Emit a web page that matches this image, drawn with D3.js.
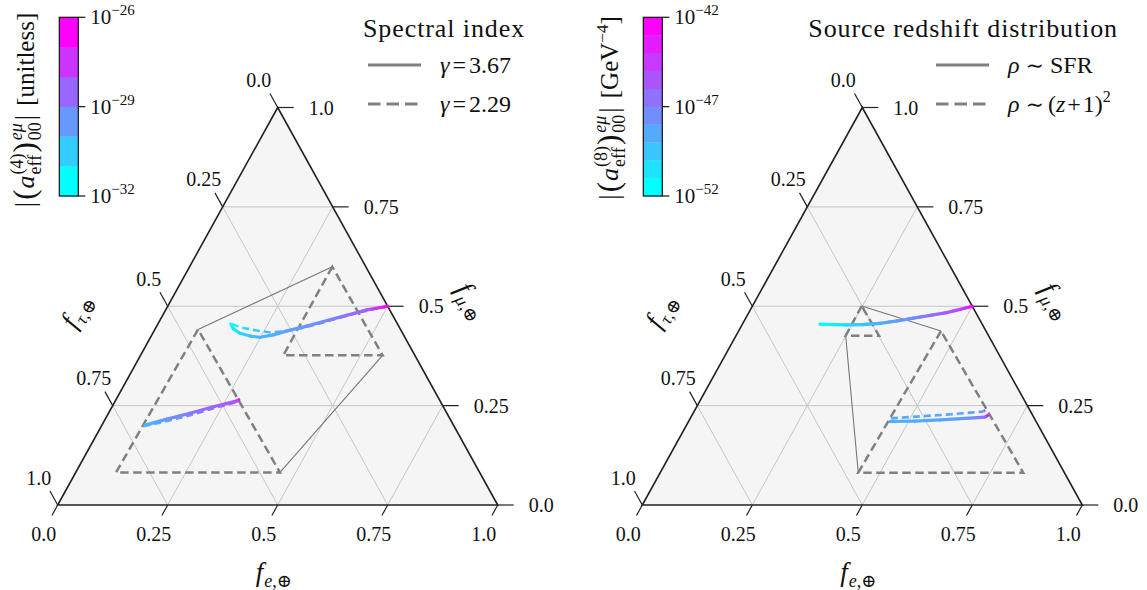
<!DOCTYPE html>
<html><head><meta charset="utf-8">
<script src="https://cdn.jsdelivr.net/npm/d3@7"></script>
<style>
body{margin:0;background:#fff}
svg{display:block}
text{font-family:'Liberation Serif','DejaVu Serif',serif;fill:#111}
</style>
</head><body>
<svg id="c" width="1147" height="590"></svg>
<script>
// ---------------- data ----------------
const tickValues = [0, 0.25, 0.5, 0.75, 1];
const tickLabels = ["0.0", "0.25", "0.5", "0.75", "1.0"];
const gridValues = [0.25, 0.5, 0.75];

// curves: [f_e, f_mu, log10 |coef|]
const leftUpperSolid = [
  [0.166,0.455,-32.0],[0.178,0.443,-31.5],[0.198,0.432,-31.0],[0.225,0.425,-30.6],
  [0.249,0.422,-30.3],[0.276,0.428,-30.0],[0.302,0.438,-29.7],[0.341,0.450,-29.4],
  [0.380,0.464,-29.1],[0.418,0.477,-28.7],[0.457,0.491,-28.2],[0.500,0.500,-26.0]];
const leftUpperDashed = [
  [0.168,0.455,-32.0],[0.200,0.445,-31.3],[0.233,0.439,-30.8],[0.266,0.434,-30.4],
  [0.302,0.437,-30.0],[0.342,0.448,-29.6],[0.381,0.462,-29.2],[0.419,0.476,-28.8],
  [0.458,0.489,-28.3],[0.500,0.500,-26.0]];
const leftLowerSolid = [
  [0.098,0.201,-30.2],[0.140,0.216,-29.5],[0.185,0.231,-28.8],[0.230,0.247,-28.3],
  [0.277,0.262,-27.9],[0.279,0.265,-26.0]];
const leftLowerDashed = [
  [0.096,0.198,-30.4],[0.142,0.211,-29.8],[0.188,0.226,-29.1],[0.232,0.243,-28.6],
  [0.277,0.259,-28.1],[0.279,0.262,-26.0]];
const rightUpperSolid = [
  [0.176,0.455,-52.0],[0.211,0.454,-51.2],[0.238,0.453,-50.5],[0.275,0.454,-49.6],
  [0.312,0.457,-48.8],[0.348,0.463,-48.1],[0.381,0.470,-47.3],[0.416,0.477,-46.5],
  [0.450,0.484,-45.6],[0.476,0.492,-44.8],[0.500,0.500,-42.5]];
const rightUpperDashed = [
  [0.176,0.455,-52.0],[0.238,0.453,-50.5],[0.312,0.457,-48.8],[0.381,0.470,-47.3],
  [0.450,0.484,-45.6],[0.500,0.500,-42.5]];
const rightLowerSolid = [
  [0.458,0.210,-48.8],[0.514,0.211,-48.7],[0.570,0.214,-48.5],[0.625,0.218,-48.0],
  [0.668,0.221,-46.5],[0.672,0.225,-42.5]];
const rightLowerDashed = [
  [0.456,0.218,-48.8],[0.520,0.223,-48.7],[0.586,0.228,-48.6],[0.657,0.235,-48.3],
  [0.661,0.240,-42.5]];

// grey flavour triangles [f_e, f_mu]: top, bottom-left, bottom-right
const leftTriBig   = [[0.0982,0.4415],[0.0916,0.0818],[0.4643,0.0818]];
const leftTriSmall = [[0.3243,0.5995],[0.3244,0.3766],[0.5502,0.3766]];
const rightTriSmall= [[0.2484,0.5006],[0.2493,0.4259],[0.3250,0.4259]];
const rightTriBig  = [[0.4600,0.4377],[0.4502,0.0813],[0.8252,0.0813]];
const leftLinks  = [[[0.0982,0.4415],[0.3243,0.5995]],[[0.4643,0.0818],[0.5502,0.3766]]];
const rightLinks = [[[0.2484,0.5006],[0.4600,0.4377]],[[0.2493,0.4259],[0.4502,0.0813]]];

// colorbars
const cbLeftBounds  = [-32,-31,-30,-29,-28,-27,-26];
const cbLeftTicks   = [-32,-29,-26];
const cbRightBounds = [-52,-51,-50,-49,-48,-47,-46,-45,-44,-43,-42];
const cbRightTicks  = [-52,-47,-42];

const legendLeftTitle = "Spectral index";
const legendLeftLabels = ["3.67","2.29"];
const legendRightTitle = "Source redshift distribution";

// ---------------- drawing ----------------
const svg = d3.select("#c");
const defs = svg.append("defs");
const cool = t => d3.rgb(255*t, 255*(1-t), 255).formatHex();

const feScale = d3.scaleLinear().domain([0,1]).range([0,440]);
const muScale = d3.scaleLinear().domain([0,1]).range([505,107.5]);

function rich(parent, pieces, o){
  const g = parent.append("g").attr("transform",`translate(${o.x},${o.y}) rotate(${o.rot||0})`);
  const inner = g.append("g");
  let x=0,lastX=0,lastW=0;
  pieces.forEach(p=>{
    if(p.t===undefined){x+=p.gap;return;}
    const el = inner.append("text").attr("font-size",p.s).attr("y",p.dy||0);
    if(p.i) el.attr("font-style","italic");
    if(p.ls) el.attr("letter-spacing",p.ls);
    el.text(p.t);
    const w = el.node().getComputedTextLength();
    if(p.pair){el.attr("x",lastX); x=lastX+Math.max(lastW,w);}
    else {el.attr("x",x); lastX=x; lastW=w; x+=w;}
  });
  const sh = o.anchor==="middle"?-x/2:o.anchor==="end"?-x:0;
  inner.attr("transform",`translate(${sh},${o.v||0})`);
  return x;
}

let gid=0;
function drawPanel(P){
  const x0=P.x0;
  const pr=(fe,fmu)=>[x0+feScale(fe)+feScale(fmu)/2, muScale(fmu)];
  const g=svg.append("g");
  const A=pr(0,0),B=pr(1,0),C=pr(0,1);
  g.append("path").attr("d",`M${A}L${B}L${C}Z`).attr("fill","#f5f5f5");
  // grid
  gridValues.forEach(v=>{
    [[pr(0,v),pr(1-v,v)],[pr(v,0),pr(v,1-v)],[pr(1-v,0),pr(0,1-v)]].forEach(s=>{
      g.append("line").attr("x1",s[0][0]).attr("y1",s[0][1]).attr("x2",s[1][0]).attr("y2",s[1][1])
       .attr("stroke","#c6c6c6").attr("stroke-width",1);
    });
  });
  // ticks and labels
  const dx=-0.484, dy=0.875;
  tickValues.forEach((v,i)=>{
    let p=pr(v,0);
    g.append("line").attr("x1",p[0]).attr("y1",p[1]).attr("x2",p[0]+dx*12).attr("y2",p[1]+dy*12).attr("stroke","#222").attr("stroke-width",1.2);
    g.append("text").attr("x",p[0]-14).attr("y",p[1]+36).attr("text-anchor","middle").attr("font-size",20).text(tickLabels[i]);
    p=pr(1-v,v);
    g.append("line").attr("x1",p[0]).attr("y1",p[1]).attr("x2",p[0]+16).attr("y2",p[1]).attr("stroke","#222").attr("stroke-width",1.2);
    g.append("text").attr("x",p[0]+31).attr("y",p[1]+7).attr("font-size",20).text(tickLabels[i]);
    p=pr(0,1-v);
    g.append("line").attr("x1",p[0]).attr("y1",p[1]).attr("x2",p[0]+dx*16).attr("y2",p[1]-dy*16).attr("stroke","#222").attr("stroke-width",1.2);
    g.append("text").attr("x",p[0]-19).attr("y",p[1]-20.5).attr("text-anchor","middle").attr("font-size",20).text(tickLabels[i]);
  });
  g.append("path").attr("d",`M${A}L${B}L${C}Z`).attr("fill","none").attr("stroke","#222").attr("stroke-width",1.6);

  P.links.forEach(l=>{
    const a=pr(...l[0]),b=pr(...l[1]);
    g.append("line").attr("x1",a[0]).attr("y1",a[1]).attr("x2",b[0]).attr("y2",b[1]).attr("stroke","#777").attr("stroke-width",1.1);
  });
  P.tris.forEach(t=>{
    const pts=t.map(d=>pr(d[0],d[1]));
    g.append("path").attr("d","M"+pts.join("L")+"Z").attr("fill","none").attr("stroke","#808080")
     .attr("stroke-width",2.5).attr("stroke-dasharray","8.5,4.5");
  });
  P.curves.forEach(c=>{
    const t=d3.scaleLinear().domain(P.dom).range([0,1]).clamp(true);
    let cum=0;
    for(let k=0;k<c.data.length-1;k++){
      const a=pr(c.data[k][0],c.data[k][1]), b=pr(c.data[k+1][0],c.data[k+1][1]);
      const id="gr"+(gid++);
      const lg=defs.append("linearGradient").attr("id",id).attr("gradientUnits","userSpaceOnUse")
        .attr("x1",a[0]).attr("y1",a[1]).attr("x2",b[0]).attr("y2",b[1]);
      lg.append("stop").attr("offset",0).attr("stop-color",cool(t(c.data[k][2])));
      lg.append("stop").attr("offset",1).attr("stop-color",cool(t(c.data[k+1][2])));
      const ln=g.append("line").attr("x1",a[0]).attr("y1",a[1]).attr("x2",b[0]).attr("y2",b[1])
        .attr("stroke",`url(#${id})`);
      if(c.dash){ln.attr("stroke-width",2.6).attr("stroke-dasharray","7,4").attr("stroke-dashoffset",cum);}
      else {ln.attr("stroke-width",3.2).attr("stroke-linecap","round");}
      cum+=Math.hypot(b[0]-a[0],b[1]-a[1]);
    }
  });

  // axis labels
  rich(svg,[{t:"f",s:27,i:1},{gap:1},{t:"e",s:18,i:1,dy:6},{t:",⊕",s:18,dy:6}],{x:x0+216,y:581,anchor:"middle"});
  rich(svg,[{t:"f",s:27,i:1},{gap:1},{t:"μ",s:18,i:1,dy:6},{t:",⊕",s:18,dy:6}],{x:x0+412,y:302,rot:58,anchor:"middle",v:6});
  rich(svg,[{t:"f",s:27,i:1},{gap:1},{t:"τ",s:18,i:1,dy:6},{t:",⊕",s:18,dy:6}],{x:x0+21,y:312,rot:-60,anchor:"middle",v:6});

  // colorbar
  const cb=P.cb;
  const cy=d3.scaleLinear().domain([cb.bounds[0],cb.bounds[cb.bounds.length-1]]).range([196,17.3]);
  const n=cb.bounds.length-1;
  for(let k=0;k<n;k++){
    svg.append("rect").attr("x",cb.x).attr("width",19).attr("y",cy(cb.bounds[k+1])).attr("height",cy(cb.bounds[k])-cy(cb.bounds[k+1])+0.3)
      .attr("fill",cool(k/(n-1)));
  }
  svg.append("rect").attr("x",cb.x).attr("width",19).attr("y",17.3).attr("height",196-17.3).attr("fill","none").attr("stroke","#111").attr("stroke-width",1.2);
  cb.ticks.forEach(v=>{
    svg.append("line").attr("x1",cb.x+19).attr("x2",cb.x+26).attr("y1",cy(v)).attr("y2",cy(v)).attr("stroke","#111").attr("stroke-width",1.2);
    rich(svg,[{t:"10",s:21},{t:"−"+(-v),s:15,dy:-9}],{x:cb.x+31,y:cy(v)+7});
  });
  rich(svg,cb.title,{x:cb.tx,y:cb.ty,rot:-90,anchor:"middle"});

  // legend
  const L=P.legend;
  rich(svg,[{t:L.title,s:26,ls:0.9}],{x:L.tx,y:37,anchor:L.tAnchor});
  svg.append("line").attr("x1",L.lx).attr("x2",L.lx+53).attr("y1",65).attr("y2",65).attr("stroke","#808080").attr("stroke-width",3);
  svg.append("line").attr("x1",L.lx).attr("x2",L.lx+53).attr("y1",104).attr("y2",104).attr("stroke","#808080").attr("stroke-width",3).attr("stroke-dasharray","12.5,6");
  rich(svg,L.l1,{x:L.lx+72,y:73});
  rich(svg,L.l2,{x:L.lx+72,y:112});
}

const mathTitle = sup => [
  {t:"|",s:27},{gap:2},{t:"(",s:31,dy:1},{gap:1},{t:"a",s:26,i:1},{gap:1},
  {t:sup,s:18,dy:-11},{t:"eff",s:18,dy:7,pair:1},{gap:1},
  {t:")",s:31,dy:1},{gap:2},{t:"eμ",s:18,i:1,dy:-12},{t:"00",s:18,dy:7,pair:1},{gap:2},{t:"|",s:27},{gap:9}];

drawPanel({
  x0:57.7, dom:[-32,-26],
  tris:[leftTriBig,leftTriSmall], links:leftLinks,
  curves:[{data:leftUpperSolid},{data:leftLowerSolid},{data:leftUpperDashed,dash:1},{data:leftLowerDashed,dash:1}],
  cb:{x:59.3,bounds:cbLeftBounds,ticks:cbLeftTicks,tx:34,ty:110,
      title:mathTitle("(4)").concat([{t:"[unitless]",s:25}])},
  legend:{title:legendLeftTitle,tx:363,tAnchor:"start",lx:368,
    l1:[{t:"γ",s:24,i:1},{gap:3},{t:"=",s:24},{gap:3},{t:legendLeftLabels[0],s:24}],
    l2:[{t:"γ",s:24,i:1},{gap:3},{t:"=",s:24},{gap:3},{t:legendLeftLabels[1],s:24}]}
});
drawPanel({
  x0:642.3, dom:[-52,-42],
  tris:[rightTriSmall,rightTriBig], links:rightLinks,
  curves:[{data:rightUpperDashed,dash:1},{data:rightUpperSolid},{data:rightLowerSolid},{data:rightLowerDashed,dash:1}],
  cb:{x:643.3,bounds:cbRightBounds,ticks:cbRightTicks,tx:618,ty:108,
      title:mathTitle("(8)").concat([{t:"[GeV",s:25},{t:"−4",s:17,dy:-10},{t:"]",s:25}])},
  legend:{title:legendRightTitle,tx:1118,tAnchor:"end",lx:936,
    l1:[{t:"ρ",s:24,i:1},{gap:6},{t:"∼",s:22},{gap:6},{t:"SFR",s:24}],
    l2:[{t:"ρ",s:24,i:1},{gap:6},{t:"∼",s:22},{gap:4},{t:"(",s:24},{t:"z",s:24,i:1},{gap:2},{t:"+",s:24},{gap:2},{t:"1)",s:24},{t:"2",s:16,dy:-10}]}
});
</script>
</body></html>
